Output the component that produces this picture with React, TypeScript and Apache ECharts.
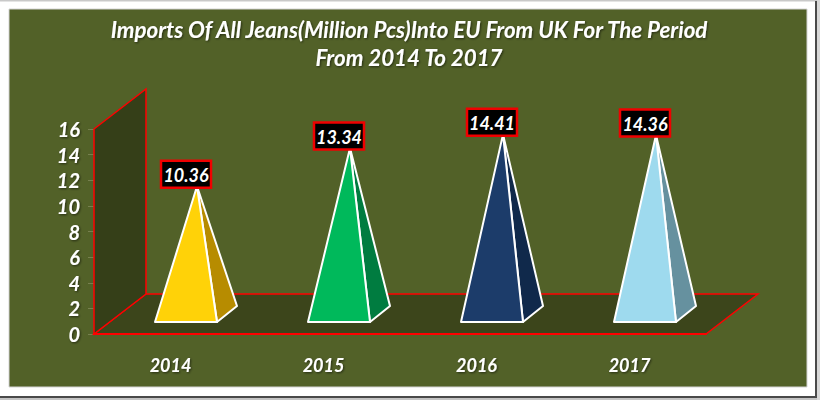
import React, { useEffect, useRef } from "react";
import * as echarts from "echarts";

const titleText = "Imports Of All Jeans(Million Pcs)Into EU From UK For The Period\nFrom 2014 To 2017";
const years = ["2014", "2015", "2016", "2017"];
const imports = [10.36, 13.34, 14.41, 14.36];
const faceColors = ["#FFD208", "#00B95B", "#1C3C6A", "#9EDAEE"];
const sideColors = ["#B78C00", "#007C40", "#10294B", "#66919F"];
const yMax = 16;
const yStep = 2;

const FONT = "Lato";
const DEPTH_X = 52;
const DEPTH_Y = 40;
const SHADOW = { textShadowColor: "rgba(0,0,0,0.55)", textShadowBlur: 2, textShadowOffsetX: 1, textShadowOffsetY: 1 };

export default function App() {
  const ref = useRef<HTMLDivElement>(null);
  useEffect(() => {
    document.body.style.margin = "0";
    const chart = echarts.init(ref.current!, null, { renderer: "svg" });
    chart.setOption({
      animation: false,
      backgroundColor: "#FFFFFF",
      graphic: [
        { type: "rect", z: -10, silent: true, shape: { x: 0, y: 0, width: 820, height: 1.5 }, style: { fill: "#C9C9C9" } },
        { type: "rect", z: -10, silent: true, shape: { x: 0, y: 396, width: 816, height: 2 }, style: { fill: "#4A4A4A" } },
        { type: "rect", z: -10, silent: true, shape: { x: 815, y: 1, width: 2, height: 397 }, style: { fill: "#4A4A4A" } },
        { type: "rect", z: -10, silent: true, shape: { x: 0, y: 398, width: 820, height: 2 }, style: { fill: "#C4C4C4" } },
        { type: "rect", z: -10, silent: true, shape: { x: 817, y: 0, width: 3, height: 400 }, style: { fill: "#D8D8D8" } },
        { type: "rect", z: -9, silent: true, shape: { x: 9, y: 9, width: 798, height: 378 }, style: { fill: "#526128", stroke: "#D4D4D4", lineWidth: 1 } },
      ],
      title: {
        text: titleText,
        left: 404,
        top: 10,
        textAlign: "center",
        textStyle: {
          fontFamily: FONT, fontSize: 22.3, fontWeight: "bold", fontStyle: "italic", color: "#FFFFFF", lineHeight: 28, ...SHADOW,
        },
      },
      grid: { left: 94, right: 114, top: 129, bottom: 66 },
      xAxis: {
        type: "category",
        data: years,
        axisLine: { lineStyle: { color: "#FF0000", width: 2 } },
        axisTick: { show: false },
        axisLabel: {
          margin: 22, color: "#FFFFFF", fontFamily: FONT, fontSize: 18, fontWeight: "bold", fontStyle: "italic", ...SHADOW,
        },
        z: 6,
      },
      yAxis: {
        type: "value",
        min: 0,
        max: yMax,
        interval: yStep,
        splitLine: { show: false },
        axisLine: { show: false },
        axisTick: { show: true, length: 6, lineStyle: { color: "#77804F", width: 1 } },
        axisLabel: {
          margin: 14, color: "#FFFFFF", fontFamily: FONT, fontSize: 20, fontWeight: "bold", fontStyle: "italic", ...SHADOW,
        },
      },
      series: [
        {
          type: "custom",
          z: 1,
          silent: true,
          data: [0],
          encode: { x: -1, y: -1 },
          renderItem: (params: any) => {
            const c = params.coordSys;
            const l = c.x, r = c.x + c.width, t = c.y, b = c.y + c.height;
            return {
              type: "group",
              children: [
                {
                  type: "polygon",
                  shape: { points: [[l, b], [l + DEPTH_X, b - DEPTH_Y], [r + DEPTH_X, b - DEPTH_Y], [r, b]] },
                  style: { fill: "#3C451B", stroke: "#FF0000", lineWidth: 1.5 },
                },
                {
                  type: "polygon",
                  shape: { points: [[l, b], [l, t], [l + DEPTH_X, t - DEPTH_Y], [l + DEPTH_X, b - DEPTH_Y]] },
                  style: { fill: "#353F18", stroke: "#FF0000", lineWidth: 1.5 },
                },
              ],
            };
          },
        },
        {
          type: "custom",
          z: 3,
          silent: true,
          data: imports.map((v, i) => [i, v]),
          encode: { x: 0, y: 1 },
          renderItem: (params: any, api: any) => {
            const i = api.value(0);
            const v = api.value(1);
            const top = api.coord([i, v]);
            const base = api.coord([i, 0]);
            const apex = [top[0] + 26.5, top[1] - 15];
            const fl = [base[0] - 15.5, base[1] - 12];
            const fr = [base[0] + 46.5, base[1] - 12];
            const br = [base[0] + 66.5, base[1] - 28];
            const w = 50, h = 27;
            const cx = apex[0] - 11;
            const by = top[1] - 13.5 - h;
            const idx = params.dataIndex;
            return {
              type: "group",
              children: [
                {
                  type: "polygon",
                  shape: { points: [apex, fr, br] },
                  style: { fill: sideColors[idx], stroke: "#FFFFFF", lineWidth: 2, lineJoin: "round" },
                },
                {
                  type: "polygon",
                  shape: { points: [apex, fl, fr] },
                  style: { fill: faceColors[idx], stroke: "#FFFFFF", lineWidth: 2, lineJoin: "round" },
                },
                {
                  type: "rect",
                  shape: { x: cx - w / 2, y: by, width: w, height: h },
                  style: { fill: "#000000", stroke: "#F00000", lineWidth: 2.5 },
                },
                {
                  type: "text",
                  x: cx,
                  y: by + h / 2 + 0.5,
                  style: {
                    text: imports[idx].toFixed(2),
                    fill: "#FFFFFF",
                    font: `italic bold 18px ${FONT}`,
                    align: "center",
                    verticalAlign: "middle",
                  },
                },
              ],
            };
          },
        },
      ],
    });
    return () => chart.dispose();
  }, []);
  return <div ref={ref} style={{ width: 820, height: 400 }} />;
}
